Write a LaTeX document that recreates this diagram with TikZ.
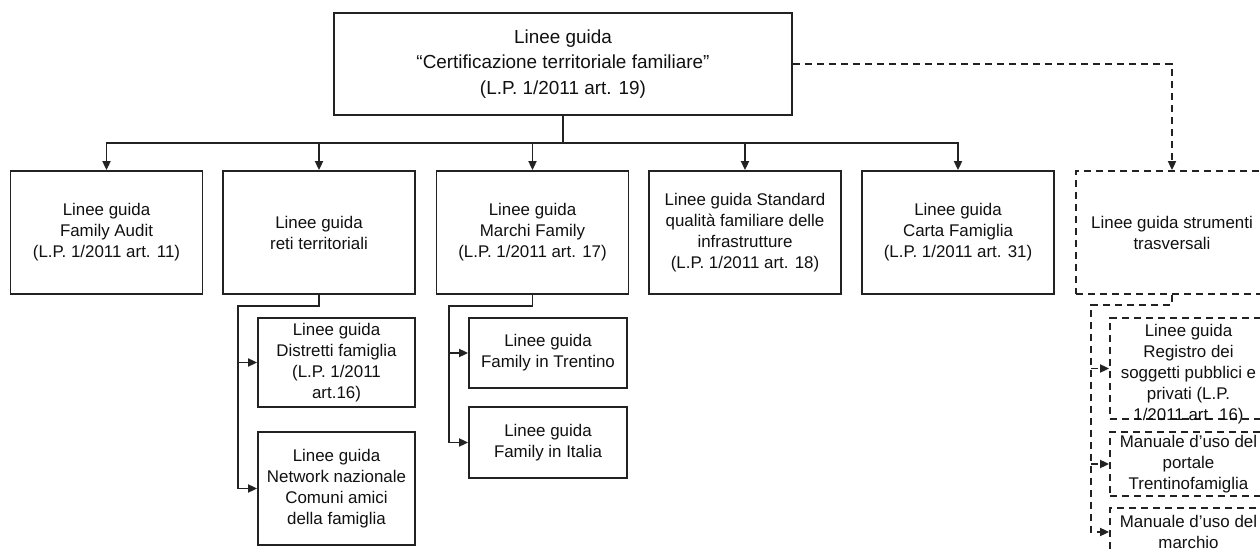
\documentclass[tikz,border=0pt]{standalone}
\usepackage{fontspec}
\setmainfont{Liberation Sans}
\usetikzlibrary{arrows.meta}
\newcommand\mysubfont{\fontsize{8.45pt}{10.5pt}\selectfont}
\newcommand\mymainfont{\fontsize{9.45pt}{12.9pt}\selectfont}
\definecolor{linec}{HTML}{222222}
\definecolor{txtc}{HTML}{111111}
\begin{document}
\begin{tikzpicture}[x=0.5pt,y=-0.5pt,
  box/.style={draw=linec, line width=0.9pt, inner sep=0pt, align=center, font=\mysubfont, text=txtc},
  dbox/.style={box, dash pattern=on 3.6pt off 2.4pt},
  rowbox/.style={box, minimum width=96pt, minimum height=61.5pt},
  subbox/.style={box, minimum width=78.5pt},
  conn/.style={draw=linec, line width=0.9pt, -{Triangle[length=4.5pt,width=4pt]}},
  dline/.style={draw=linec, line width=0.9pt, dash pattern=on 3.6pt off 2.4pt},
  dconn/.style={dline, -{Triangle[length=4.5pt,width=4pt]}}]
\useasboundingbox (0,0) rectangle (1260,551);
\clip (0,0) rectangle (1260,551);
\fill[white] (0,0) rectangle (1260,551);

% main box
\node[box, font=\mymainfont, minimum width=229pt, minimum height=51pt] (main) at (563,64)
  {Linee guida\\“Certificazione territoriale familiare”\\(L.P. 1/2011 art. 19)};

% row boxes
\node[rowbox] (B1) at (106.5,232.5) {Linee guida\\Family Audit\\(L.P. 1/2011 art. 11)};
\node[rowbox] (B2) at (319,232.5) {Linee guida\\reti territoriali};
\node[rowbox] (B3) at (532.5,232.5) {Linee guida\\Marchi Family\\(L.P. 1/2011 art. 17)};
\node[rowbox] (B4) at (745,232.5) {Linee guida Standard\\qualità familiare delle\\infrastrutture\\(L.P. 1/2011 art. 18)};
\node[rowbox] (B5) at (958,232.5) {Linee guida\\Carta Famiglia\\(L.P. 1/2011 art. 31)};
\node[rowbox, dbox] (B6) at (1172,232.5) {Linee guida strumenti\\trasversali};

% sub boxes under B2
\node[subbox, minimum height=44.5pt] (D1) at (336.5,362.5) {Linee guida\\Distretti famiglia\\(L.P. 1/2011\\art.16)};
\node[subbox, minimum height=56.5pt] (D2) at (336.5,488.5) {Linee guida\\Network nazionale\\Comuni amici\\della famiglia};

% sub boxes under B3
\node[subbox, minimum width=79pt, minimum height=35pt] (F1) at (548,353) {Linee guida\\Family in Trentino};
\node[subbox, minimum width=79pt, minimum height=35.5pt] (F2) at (548,442.5) {Linee guida\\Family in Italia};

% sub boxes under B6
\node[subbox, dbox, minimum height=50.5pt,
  label={[font=\mysubfont, text=txtc, align=center, yshift=-2.6pt]center:{Linee guida\\Registro dei\\soggetti pubblici e\\privati (L.P.\\1/2011 art. 16)}}]
  (R1) at (1188.5,368.5) {};
\node[subbox, dbox, minimum height=32pt] (R2) at (1188.5,464) {Manuale d’uso del\\portale\\Trentinofamiglia};
\node[subbox, dbox, minimum height=24pt] (R3) at (1188.5,532) {Manuale d’uso del\\marchio};

% connectors from main box
\coordinate (bar) at (564,143);
\foreach \b in {B1,B2,B3,B4,B5}
  \draw[conn] (main.south) |- (\b.north|-bar) -- (\b.north);
\draw[dconn] (main.east) -| (B6.north);

% B2 branch
\coordinate (j2) at (238,306);
\draw[conn] (B2.south) |- (j2) |- (D2.west);
\draw[conn] (j2|-D1.west) -- (D1.west);

% B3 branch
\coordinate (j3) at (449,306);
\draw[conn] (B3.south) |- (j3) |- (F2.west);
\draw[conn] (j3|-F1.west) -- (F1.west);

% B6 branch
\coordinate (j6) at (1091,305);
\draw[dconn] (B6.south) |- (j6) |- (R3.west);
\draw[dconn] (j6|-R1.west) -- (R1.west);
\draw[dconn] (j6|-R2.west) -- (R2.west);
\end{tikzpicture}
\end{document}
